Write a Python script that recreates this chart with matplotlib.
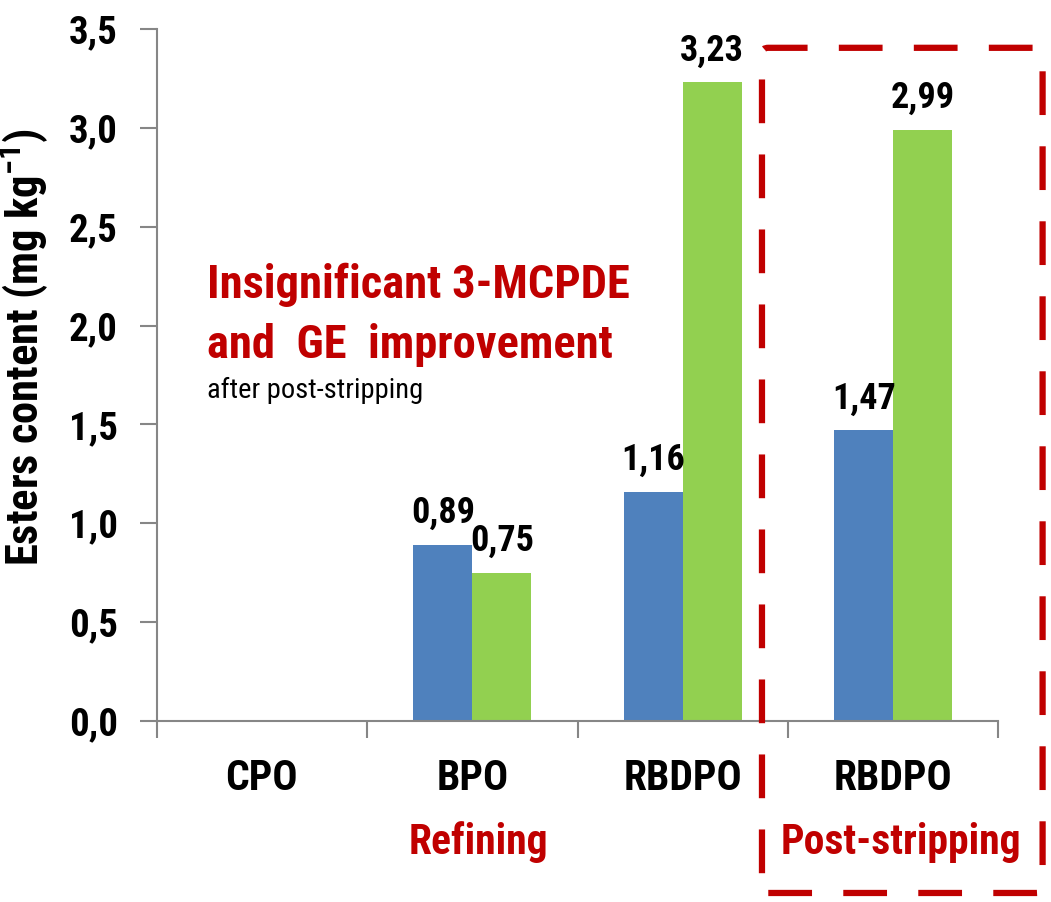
import numpy as np
import matplotlib
matplotlib.use("Agg")
import matplotlib.pyplot as plt
from matplotlib.patches import FancyBboxPatch

plt.rcParams['font.family'] = ['Roboto Condensed', 'DejaVu Sans']
plt.rcParams['mathtext.fontset'] = 'custom'
plt.rcParams['mathtext.bf'] = 'Roboto Condensed:bold'
plt.rcParams['mathtext.rm'] = 'Roboto Condensed'

# ester contents per sample (mg/kg)
categories = ['CPO', 'BPO', 'RBDPO', 'RBDPO']
mcpde = [0.0, 0.89, 1.16, 1.47]
ge = [0.0, 0.75, 3.23, 2.99]
mcpde_labels = ['', '0,89', '1,16', '1,47']
ge_labels = ['', '0,75', '3,23', '2,99']
yticks = [0.0, 0.5, 1.0, 1.5, 2.0, 2.5, 3.0, 3.5]

blue = '#4F81BD'
green = '#92D050'
red = '#C00000'
axis_gray = '#868686'

fig = plt.figure(figsize=(10.51, 9.02), dpi=100)
ax = fig.add_axes([0.149, 0.2007, 0.801, 0.7671])

x = np.arange(len(categories))
w = 0.28
ax.bar(x - w / 2, mcpde, w, color=blue)
ax.bar(x + w / 2, ge, w, color=green)

for xi, v, lab in zip(x - w / 2, mcpde, mcpde_labels):
    if lab:
        ax.text(xi, v + 0.07, lab, ha='center', va='bottom', fontsize=26, fontweight='bold')
for xi, v, lab in zip(x + w / 2, ge, ge_labels):
    if lab:
        ax.text(xi, v + 0.07, lab, ha='center', va='bottom', fontsize=26, fontweight='bold')

ax.set_xlim(-0.5, len(categories) - 0.5)
ax.set_ylim(0, 3.5)
ax.set_yticks(yticks)
ax.set_yticklabels([f'{t:.1f}'.replace('.', ',') for t in yticks], fontsize=28, fontweight='bold')
ax.set_xticks(x)
ax.set_xticklabels(categories, fontsize=30, fontweight='bold')
ax.set_xticks(np.arange(len(categories) + 1) - 0.5, minor=True)
ax.tick_params(axis='x', which='major', length=0, pad=27)
ax.tick_params(axis='x', which='minor', length=12, color=axis_gray, width=1.5)
ax.tick_params(axis='y', length=12, color=axis_gray, width=1.5, pad=16)
for s in ['top', 'right']:
    ax.spines[s].set_visible(False)
for s in ['left', 'bottom']:
    ax.spines[s].set_color(axis_gray)
    ax.spines[s].set_linewidth(1.5)

ax.set_ylabel('Esters content (mg kg$^{\\mathbf{-1}}$)', fontsize=32, fontweight='bold')
ax.yaxis.set_label_coords(-0.125, 0.54)

# annotations
fig.text(0.197, 0.684, 'Insignificant 3-MCPDE', color=red, fontsize=33.5, fontweight='bold',
         ha='left', va='center')
fig.text(0.197, 0.618, 'and  GE  improvement', color=red, fontsize=33.5, fontweight='bold',
         ha='left', va='center')
fig.text(0.197, 0.567, 'after post-stripping', color='black', fontsize=20.5,
         ha='left', va='center')

fig.text(0.455, 0.066, 'Refining', color=red, fontsize=30, fontweight='bold', ha='center', va='center')
fig.text(0.857, 0.066, 'Post-stripping', color=red, fontsize=30, fontweight='bold', ha='center', va='center')

# dashed frame around the post-stripping group
box = FancyBboxPatch((0.725, 0.010), 0.267, 0.937, boxstyle='round,pad=0,rounding_size=0.006',
                     transform=fig.transFigure, fill=False, edgecolor=red, linewidth=4.5,
                     linestyle=(0, (7, 5)), clip_on=False)
fig.patches.append(box)

fig.savefig('out.png', dpi=100)
